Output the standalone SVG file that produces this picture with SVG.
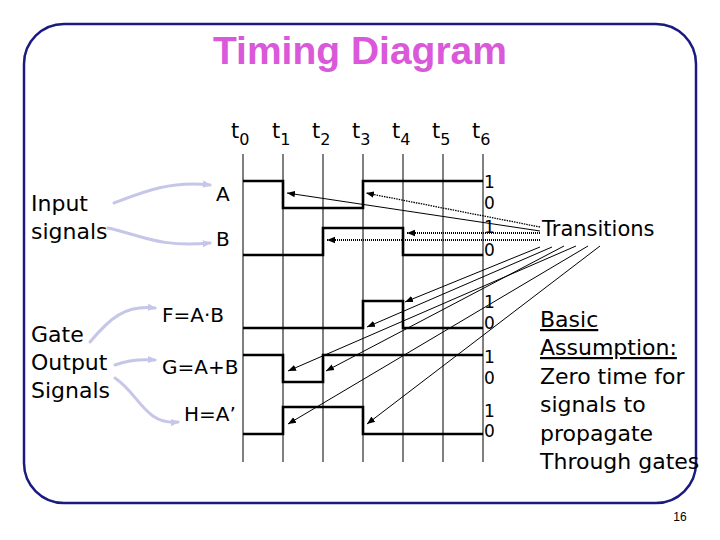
<svg xmlns="http://www.w3.org/2000/svg" width="720" height="540" viewBox="0 0 720 540">
<defs>
<style>
.txt{font-family:"DejaVu Sans",sans-serif;fill:#000}
.lbl{font-size:22px}
.sig{font-size:20px}
.tl{font-size:21px}
.ts{font-size:16px}
.bit{font-size:17px}
.grid{stroke:#000;stroke-width:1;fill:none}
.wave{stroke:#000;stroke-width:2.6;fill:none;stroke-linejoin:miter}
.pur{stroke:#c6c6e8;stroke-width:3;fill:none;stroke-linecap:round}
.arr{stroke:#000;stroke-width:1;fill:none}
.dot{stroke:#000;stroke-width:2;fill:none;stroke-dasharray:1 1}
.dotthin{stroke:#000;stroke-width:1.3;fill:none;stroke-dasharray:1.5 1}
</style>
<marker id="ah" viewBox="0 0 10 10" refX="10" refY="5" markerWidth="8" markerHeight="8" markerUnits="userSpaceOnUse" orient="auto">
<path d="M0,1 L10,5 L0,9 Z" fill="#000"/>
</marker>
<marker id="ahp" viewBox="0 0 10 10" refX="8" refY="5" markerWidth="9" markerHeight="9" markerUnits="userSpaceOnUse" orient="auto">
<path d="M0,1 L10,5 L0,9 Z" fill="#c6c6e8"/>
</marker>
</defs>
<rect width="720" height="540" fill="#fff"/>
<path d="M64,24 H656 A40,40 0 0 1 696,64 V463 A40,40 0 0 1 656,503 H64 A40,40 0 0 1 24,463 V64 A40,40 0 0 1 64,24 Z" fill="none" stroke="#1a1a80" stroke-width="2.5"/>
<text x="360" y="64" text-anchor="middle" font-family="'Liberation Sans',Arial,sans-serif" font-weight="bold" font-size="39" fill="#da58da">Timing Diagram</text>

<g id="time-axis">
<g class="grid">
<line x1="243" y1="154" x2="243" y2="462"/>
<line x1="283" y1="154" x2="283" y2="462"/>
<line x1="323" y1="154" x2="323" y2="462"/>
<line x1="363" y1="154" x2="363" y2="462"/>
<line x1="403" y1="154" x2="403" y2="462"/>
<line x1="443" y1="154" x2="443" y2="462"/>
<line x1="483" y1="154" x2="483" y2="462"/>
</g>
<text class="txt tl" x="231" y="138">t<tspan class="ts" dy="7">0</tspan></text>
<text class="txt tl" x="272" y="138">t<tspan class="ts" dy="7">1</tspan></text>
<text class="txt tl" x="312" y="138">t<tspan class="ts" dy="7">2</tspan></text>
<text class="txt tl" x="352" y="138">t<tspan class="ts" dy="7">3</tspan></text>
<text class="txt tl" x="392" y="138">t<tspan class="ts" dy="7">4</tspan></text>
<text class="txt tl" x="432" y="138">t<tspan class="ts" dy="7">5</tspan></text>
<text class="txt tl" x="472" y="138">t<tspan class="ts" dy="7">6</tspan></text>
</g>

<g id="input-label">
<text class="txt lbl" x="31" y="211">Input</text>
<text class="txt lbl" x="31" y="239">signals</text>
</g>
<g id="gate-label">
<text class="txt lbl" x="31" y="342">Gate</text>
<text class="txt lbl" x="31" y="370">Output</text>
<text class="txt lbl" x="31" y="398">Signals</text>
</g>

<g id="signal-A">
<text class="txt sig" x="216" y="201">A</text>
<path class="wave" d="M243,181 H283 V208 H363 V181 H483"/>
<text class="txt bit" x="484" y="188">1</text>
<text class="txt bit" x="484" y="209">0</text>
</g>
<g id="signal-B">
<text class="txt sig" x="216" y="246">B</text>
<path class="wave" d="M243,255 H323 V228 H403 V255 H483"/>
<text class="txt bit" x="484" y="233">1</text>
<text class="txt bit" x="484" y="256">0</text>
</g>
<g id="signal-F">
<text class="txt sig" x="162" y="322">F=A·B</text>
<path class="wave" d="M243,328 H363 V301 H403 V328 H483"/>
<text class="txt bit" x="484" y="308">1</text>
<text class="txt bit" x="484" y="329">0</text>
</g>
<g id="signal-G">
<text class="txt sig" x="162" y="374">G=A+B</text>
<path class="wave" d="M243,355 H283 V382 H323 V355 H483"/>
<text class="txt bit" x="484" y="363">1</text>
<text class="txt bit" x="484" y="384">0</text>
</g>
<g id="signal-H">
<text class="txt sig" x="184" y="421">H=A’</text>
<path class="wave" d="M243,434 H283 V407 H363 V434 H483"/>
<text class="txt bit" x="484" y="417">1</text>
<text class="txt bit" x="484" y="437">0</text>
</g>

<g id="transitions-label">
<text class="txt" font-size="21" x="542" y="236">Transitions</text>
</g>
<g id="assumption">
<text class="txt lbl" x="540" y="327" text-decoration="underline">Basic</text>
<text class="txt lbl" x="540" y="355" text-decoration="underline">Assumption:</text>
<text class="txt lbl" x="540" y="384">Zero time for</text>
<text class="txt lbl" x="540" y="412">signals to</text>
<text class="txt lbl" x="540" y="441">propagate</text>
<text class="txt lbl" x="540" y="469">Through gates</text>
</g>
<text x="680" y="521" text-anchor="middle" font-family="'Liberation Sans',Arial,sans-serif" font-size="12" fill="#000">16</text>

<g id="connectors">
<path class="pur" d="M114,203 C140,193 170,180 210,185" marker-end="url(#ahp)"/>
<path class="pur" d="M108,228 C140,235 160,248 210,243" marker-end="url(#ahp)"/>
<path class="pur" d="M90,342 C110,318 125,305 155,308" marker-end="url(#ahp)"/>
<path class="pur" d="M115,365 C128,360 140,359 155,360" marker-end="url(#ahp)"/>
<path class="pur" d="M115,378 C140,395 145,425 178,422" marker-end="url(#ahp)"/>

<line class="arr" x1="540" y1="231" x2="287" y2="193" marker-end="url(#ah)"/>
<line class="dotthin" x1="540" y1="227" x2="366" y2="193" marker-end="url(#ah)"/>
<line class="dot" x1="540" y1="233" x2="407" y2="233" marker-end="url(#ah)"/>
<line class="dot" x1="540" y1="240" x2="327" y2="240" marker-end="url(#ah)"/>

<line class="arr" x1="540" y1="247" x2="405" y2="302" marker-end="url(#ah)"/>
<line class="arr" x1="552" y1="247" x2="367" y2="327" marker-end="url(#ah)"/>
<line class="arr" x1="564" y1="246" x2="326" y2="371" marker-end="url(#ah)"/>
<line class="arr" x1="576" y1="246" x2="288" y2="371" marker-end="url(#ah)"/>
<line class="arr" x1="588" y1="246" x2="288" y2="424" marker-end="url(#ah)"/>
<line class="arr" x1="600" y1="246" x2="367" y2="424" marker-end="url(#ah)"/>
</g>
</svg>
